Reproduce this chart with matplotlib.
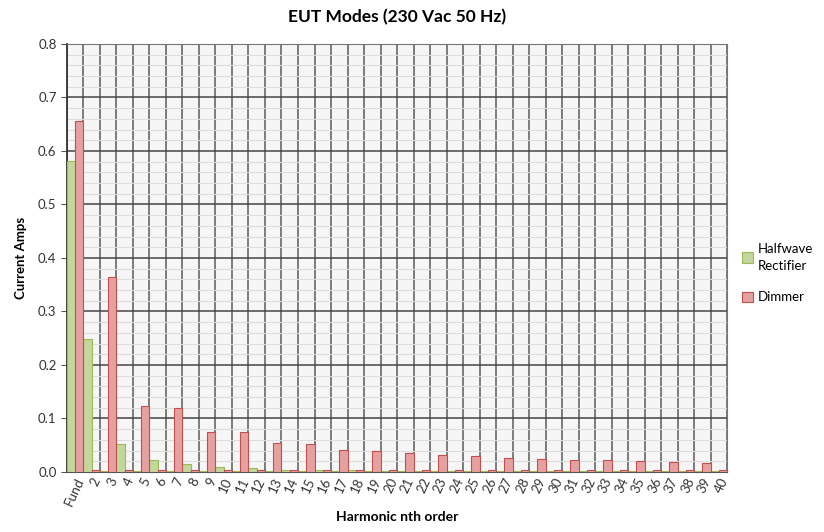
import matplotlib
matplotlib.use("Agg")
import matplotlib.pyplot as plt
import numpy as np

plt.rcParams['font.family'] = ['Lato', 'DejaVu Sans']

orders = ["Fund"] + [str(i) for i in range(2, 41)]
halfwave = [0.581, 0.248, 0.002, 0.052, 0.002, 0.023, 0.002, 0.015, 0.002, 0.009,
            0.002, 0.007, 0.002, 0.004, 0.002, 0.003, 0.002, 0.003, 0.002, 0.002,
            0.002, 0.002, 0.002, 0.002, 0.002, 0.002, 0.002, 0.002, 0.002, 0.002,
            0.002, 0.002, 0.002, 0.002, 0.002, 0.002, 0.002, 0.002, 0.002, 0.002]
dimmer = [0.656, 0.003, 0.364, 0.003, 0.124, 0.003, 0.120, 0.003, 0.075, 0.003,
          0.074, 0.003, 0.055, 0.003, 0.052, 0.003, 0.042, 0.003, 0.040, 0.003,
          0.035, 0.003, 0.032, 0.003, 0.030, 0.003, 0.027, 0.003, 0.024, 0.003,
          0.022, 0.003, 0.022, 0.003, 0.020, 0.003, 0.018, 0.003, 0.016, 0.003]

fig = plt.figure(figsize=(8.24, 5.32), dpi=100)
ax = fig.add_axes([0.0813, 0.1128, 0.8010, 0.8045])

x = np.arange(len(orders))
w = 0.5
ax.set_facecolor("#f6f6f6")
ax.bar(x - w / 2, halfwave, w, color="#c3d69b", edgecolor="#9bbb59", linewidth=0.8,
       label="Halfwave\nRectifier", zorder=3)
ax.bar(x + w / 2, dimmer, w, color="#e6a0a0", edgecolor="#c0504d", linewidth=0.8,
       label="Dimmer", zorder=3)

ax.set_xlim(-0.5, len(orders) - 0.5)
ax.set_ylim(0, 0.8)
ax.set_yticks(np.arange(0, 0.81, 0.1))
ax.set_yticklabels([f"{v:.1f}" for v in np.arange(0, 0.81, 0.1)], fontsize=9.5, color="#333333")
ax.set_yticks(np.arange(0, 0.81, 0.02), minor=True)
ax.set_xticks(x)
ax.set_xticklabels(orders, rotation=65, ha="right", rotation_mode="anchor",
                   fontsize=9.5, color="#333333")
ax.set_xticks(np.arange(-0.5, len(orders), 1), minor=True)

ax.grid(axis="y", which="major", color="#444444", linewidth=1.1, zorder=1)
ax.grid(axis="y", which="minor", color="#dddddd", linewidth=0.8, zorder=0)
ax.grid(axis="x", which="minor", color="#666666", linewidth=1.2, zorder=1)
ax.tick_params(axis="x", which="both", length=0, pad=3)
ax.tick_params(axis="y", which="major", length=4, color="#555555")
ax.tick_params(axis="y", which="minor", length=0)

for s in ["top", "right"]:
    ax.spines[s].set_color("#777777")
ax.spines["left"].set_color("#333333")
ax.spines["left"].set_linewidth(1.3)
ax.spines["bottom"].set_color("#555555")

ax.set_title("EUT Modes (230 Vac 50 Hz)", fontsize=12.5, fontweight="bold", pad=16)
ax.set_ylabel("Current Amps", fontsize=9.5, fontweight="bold", labelpad=8)
ax.set_xlabel("Harmonic nth order", fontsize=10, fontweight="bold", labelpad=2)

leg = ax.legend(loc="center left", bbox_to_anchor=(1.005, 0.465), frameon=False,
                fontsize=9.5, handlelength=0.8, handleheight=0.8, handletextpad=0.4,
                labelspacing=1.5)
for t in leg.get_texts():
    t.set_linespacing(1.5)

fig.savefig("out.png", dpi=100)
